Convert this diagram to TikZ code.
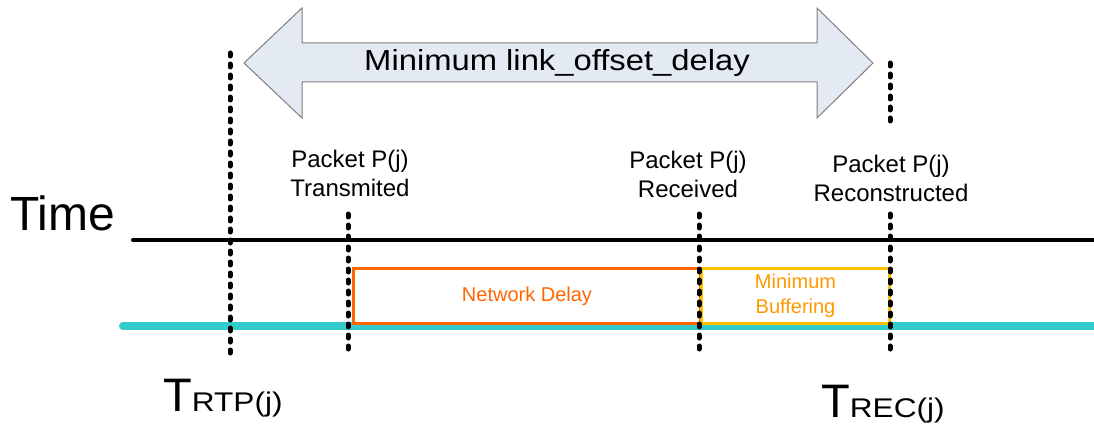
\documentclass[tikz,border=0pt]{standalone}
\usepackage{fontspec}
\setmainfont{Liberation Sans}
\newfontfamily\wfont[FakeStretch=1.13]{Liberation Sans}
\newfontfamily\sfont[FakeStretch=1.17]{Liberation Sans}
\definecolor{arrowfill}{HTML}{E4EAF4}
\definecolor{arrowline}{HTML}{7F7F7F}
\definecolor{netorange}{HTML}{FF6600}
\definecolor{bufyellow}{HTML}{FFC000}
\definecolor{buftext}{HTML}{FF9900}
\definecolor{linkcyan}{HTML}{33CCCC}
\tikzset{
  tick/.style={line width=5pt, line cap=round, dash pattern=on 3pt off 8pt},
  pklabel/.style={align=center, font=\fontsize{24}{29}\selectfont, inner sep=0pt},
  boxlabel/.style={align=center, inner sep=0pt},
}
\begin{document}
\begin{tikzpicture}[x=1pt,y=-1pt]
\useasboundingbox (0,0) rectangle (1094,433);
% big double arrow
\draw[fill=arrowfill, draw=arrowline, line width=1pt, line join=miter]
  (244,63) -- (302,8) -- (302,43) -- (817,43) -- (817,8) -- (873,63)
  -- (817,118) -- (817,82) -- (302,82) -- (302,118) -- cycle;
\node[inner sep=0pt, font=\wfont\fontsize{29}{29}\selectfont] (arrowlabel) at (557,63) {Minimum link\_offset\_delay};
% time axis
\node[anchor=base west, inner sep=0pt, font=\fontsize{48}{48}\selectfont] (time) at (10,230) {Time};
\coordinate (tstart) at (133,240);
\coordinate (tend) at (1094,240);
\draw[line width=4pt, line cap=round] (tstart) -- (tend);
\coordinate (cstart) at (123,326);
\coordinate (cend) at (1094,326);
\draw[linkcyan, line width=8pt, line cap=round] (cstart) -- (cend);
% boxes
\node[draw=netorange, line width=3pt, minimum width=347pt, minimum height=55pt, anchor=north west, inner sep=0pt] (net) at (352,267) {};
\node[boxlabel, text=netorange, font=\fontsize{20}{25}\selectfont] (netlabel) at (net.center) {Network Delay};
\node[draw=bufyellow, line width=3pt, minimum width=188pt, minimum height=55pt, anchor=north west, inner sep=0pt] (buf) at (700,267) {};
\node[boxlabel, text=buftext, font=\fontsize{20}{25}\selectfont] (buflabel) at (buf.center) {Minimum\\Buffering};
% ticks
\coordinate (a1) at (230,53);  \coordinate (a2) at (230,355);
\coordinate (b1) at (348,214); \coordinate (b2) at (348,355);
\coordinate (c1) at (699,214); \coordinate (c2) at (699,355);
\coordinate (d1) at (890,63);  \coordinate (d2) at (890,128);
\coordinate (d3) at (890,214); \coordinate (d4) at (890,355);
\draw[tick] (a1) -- (a2);
\draw[tick] (b1) -- (b2);
\draw[tick] (c1) -- (c2);
\draw[tick] (d1) -- (d2);
\draw[tick] (d3) -- (d4);
% packet labels
\node[pklabel] (ptx) at (350,173) {Packet P(j)\\Transmited};
\node[pklabel] (prx) at (688,174) {Packet P(j)\\Received};
\node[pklabel] (prc) at (891,178) {Packet P(j)\\Reconstructed};
% T labels
\node[anchor=base west, inner sep=0pt] (trtp) at (163,411)
  {\fontsize{47}{47}\selectfont T\sfont\fontsize{27}{27}\selectfont RTP(j)};
\node[anchor=base west, inner sep=0pt] (trec) at (821,417)
  {\fontsize{47}{47}\selectfont T\sfont\fontsize{27}{27}\selectfont REC(j)};
\end{tikzpicture}
\end{document}
